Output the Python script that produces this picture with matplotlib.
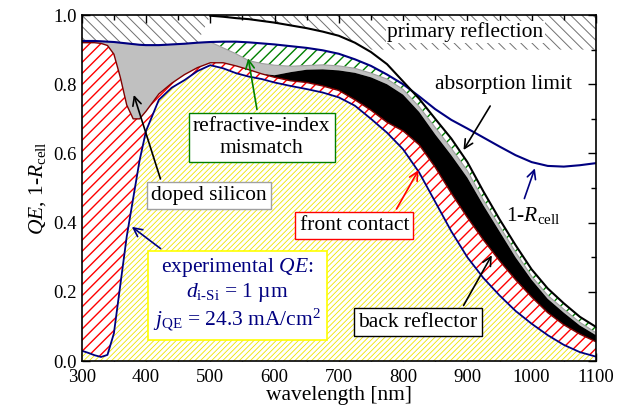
import numpy as np
import matplotlib
matplotlib.use("Agg")
import matplotlib.pyplot as plt

plt.rcParams['font.family'] = ['Liberation Serif', 'DejaVu Serif']
plt.rcParams['mathtext.fontset'] = 'custom'
plt.rcParams['mathtext.rm'] = 'Liberation Serif'
plt.rcParams['mathtext.it'] = 'Liberation Serif:italic'
plt.rcParams['hatch.linewidth'] = 1.0

nan = np.nan

# wavelength grid [nm]
wl = [300, 310, 320, 330, 340, 350, 360, 370, 380, 390, 400, 420, 440, 460, 480,
      500, 520, 540, 560, 580, 600, 625, 650, 675, 700, 725, 750, 775, 800, 825,
      850, 875, 900, 925, 950, 975, 1000, 1025, 1050, 1075, 1100]

# experimental QE
qe = [0.030, 0.024, 0.017, 0.012, 0.018, 0.08, 0.22, 0.36, 0.47, 0.58, 0.665, 0.755, 0.79, 0.812, 0.838,
      0.855, 0.846, 0.832, 0.822, 0.815, 0.805, 0.795, 0.786, 0.776, 0.762, 0.738, 0.70, 0.66, 0.612, 0.545,
      0.46, 0.375, 0.30, 0.24, 0.19, 0.145, 0.108, 0.075, 0.047, 0.026, 0.013]

# top of front contact losses
front = [0.920, 0.920, 0.920, 0.918, 0.912, 0.887, 0.82, 0.74, 0.70, 0.70, 0.722, 0.772, 0.803, 0.828, 0.848,
         0.862, 0.862, 0.853, 0.842, 0.830, 0.82, 0.81, 0.805, 0.795, 0.782, 0.755, 0.725, 0.69, 0.665, 0.625,
         0.56, 0.485, 0.415, 0.35, 0.29, 0.235, 0.185, 0.14, 0.105, 0.078, 0.056]

# top of back reflector losses
back = [0.920, 0.920, 0.920, 0.918, 0.912, 0.887, 0.82, 0.74, 0.70, 0.70, 0.722, 0.772, 0.803, 0.828, 0.848,
        0.862, 0.862, 0.853, 0.842, 0.830, 0.826, 0.835, 0.842, 0.843, 0.840, 0.833, 0.82, 0.80, 0.77, 0.72,
        0.655, 0.595, 0.53, 0.45, 0.375, 0.30, 0.235, 0.18, 0.14, 0.103, 0.075]

# 1 - R_cell
one_minus_r = [0.925, 0.925, 0.925, 0.924, 0.923, 0.922, 0.92, 0.918, 0.916, 0.914, 0.913, 0.913, 0.915, 0.917, 0.92,
               0.922, 0.923, 0.923, 0.921, 0.918, 0.915, 0.91, 0.905, 0.898, 0.888, 0.872, 0.853, 0.828, 0.80, 0.765,
               0.728, 0.697, 0.672, 0.646, 0.62, 0.595, 0.575, 0.564, 0.562, 0.566, 0.572]

# top of doped silicon losses
doped = [0.925, 0.925, 0.925, 0.924, 0.923, 0.922, 0.92, 0.918, 0.916, 0.914, 0.913, 0.913, 0.915, 0.917, 0.92,
         0.922, 0.905, 0.888, 0.868, 0.86, 0.855, 0.852, 0.854, 0.856, 0.853, 0.846, 0.832, 0.815, 0.785, 0.735,
         0.675, 0.615, 0.55, 0.465, 0.39, 0.315, 0.245, 0.19, 0.15, 0.112, 0.082]

# absorption limit
abs_limit = [nan, nan, nan, nan, nan, nan, nan, nan, nan, nan, nan, nan, nan, nan, nan,
             0.998, 0.995, 0.991, 0.988, 0.983, 0.978, 0.97, 0.962, 0.952, 0.94, 0.92, 0.893, 0.858, 0.808, 0.758,
             0.70, 0.643, 0.575, 0.49, 0.41, 0.335, 0.265, 0.21, 0.167, 0.128, 0.099]

# lower edge of primary reflection
primary = [0.925, 0.925, 0.925, 0.924, 0.923, 0.922, 0.92, 0.918, 0.916, 0.914, 0.913, 0.913, 0.915, 0.917, 0.92,
           0.922, 0.923, 0.923, 0.921, 0.918, 0.912, 0.908, 0.905, 0.903, 0.902, 0.90, 0.90, 0.90, 0.90, 0.90,
           0.90, 0.90, 0.90, 0.90, 0.90, 0.90, 0.90, 0.90, 0.90, 0.90, 0.90]

wl = np.array(wl)
qe = np.array(qe)
front = np.array(front)
back = np.array(back)
doped = np.array(doped)
one_minus_r = np.array(one_minus_r)
abs_limit = np.array(abs_limit)
primary = np.array(primary)

mismatch = np.fmin(one_minus_r, abs_limit)
prim_low = np.maximum(primary, np.nan_to_num(abs_limit))

navy = '#000080'

fig = plt.figure(figsize=(6.24, 4.17), dpi=100)
ax = fig.add_axes([0.131, 0.134, 0.824, 0.83])

with plt.rc_context({'hatch.linewidth': 0.7}):
    ax.fill_between(wl, prim_low, 1.0, facecolor='white', edgecolor='#707070', hatch='\\\\\\',
                    linewidth=0, zorder=1)
ax.fill_between(wl, doped, mismatch, facecolor='white', edgecolor='#008000', hatch='///', linewidth=0, zorder=2)
ax.fill_between(wl, back, doped, facecolor='#c0c0c0', linewidth=0, zorder=3)
ax.fill_between(wl, front, back, facecolor='black', linewidth=0, zorder=4)
ax.fill_between(wl, qe, front, facecolor='white', edgecolor='#ff0000', hatch='///', linewidth=0, zorder=5)
with plt.rc_context({'hatch.linewidth': 0.6}):
    ax.fill_between(wl, 0, qe, facecolor='white', edgecolor='#eee400', hatch='//////', linewidth=0, zorder=6)

ax.plot(wl, doped, color='#a0a0a0', lw=0.8, zorder=7)
ax.plot(wl, front, color='#800000', lw=1.0, zorder=7)
ax.plot(wl, qe, color=navy, lw=1.3, zorder=8)
ax.plot(wl, one_minus_r, color=navy, lw=1.5, zorder=8)
ax.plot(wl, abs_limit, color='black', lw=1.5, zorder=8)

fs = 15.5
ax.text(897, 0.951, 'primary reflection', fontsize=fs, ha='center', va='center', zorder=10,
        bbox=dict(facecolor='white', edgecolor='none', pad=1))

ax.annotate('absorption limit', xy=(894, 0.61), xytext=(956, 0.800), fontsize=fs, ha='center', va='center',
            zorder=10, arrowprops=dict(arrowstyle='->', color='black', lw=1.2, shrinkA=8, shrinkB=0))

ax.annotate('refractive-index\nmismatch', xy=(559, 0.875), xytext=(580, 0.647), fontsize=fs, ha='center',
            va='center', multialignment='center', zorder=10,
            bbox=dict(facecolor='white', edgecolor='#008000', lw=1, pad=3),
            arrowprops=dict(arrowstyle='->', color='#008000', lw=1.2, shrinkB=0))

ax.annotate('doped silicon', xy=(381, 0.769), xytext=(498, 0.478), fontsize=fs, ha='center', va='center',
            zorder=10, bbox=dict(facecolor='white', edgecolor='#a0a0a0', lw=1, pad=3),
            arrowprops=dict(arrowstyle='->', color='black', lw=1.2, shrinkB=0, relpos=(0.1, 1.0)))

ax.annotate('front contact', xy=(824, 0.552), xytext=(724, 0.392), fontsize=fs, ha='center', va='center',
            zorder=10, bbox=dict(facecolor='white', edgecolor='#ff0000', lw=1, pad=3),
            arrowprops=dict(arrowstyle='->', color='#ff0000', lw=1.2, shrinkB=0, relpos=(0.85, 1.0)))

ax.annotate('back reflector', xy=(938, 0.306), xytext=(823, 0.113), fontsize=fs, ha='center', va='center',
            zorder=10, bbox=dict(facecolor='white', edgecolor='black', lw=1, pad=3),
            arrowprops=dict(arrowstyle='->', color='black', lw=1.2, shrinkB=0, relpos=(0.85, 1.0)))

ax.annotate(r'1-$R_{\rm cell}$', xy=(1005, 0.557), xytext=(1002, 0.42), fontsize=fs, ha='center', va='center',
            zorder=10, arrowprops=dict(arrowstyle='->', color=navy, lw=1.2, shrinkA=3, shrinkB=0,
                                       relpos=(0.3, 1.0)))

ax.annotate('experimental $QE$:\n$d_{\\text{i-Si}}$ = 1 µm\n$j_{\\rm QE}$ = 24.3 mA/cm$^2$',
            xy=(378, 0.388), xytext=(542, 0.191), fontsize=fs, ha='center', va='center', color=navy,
            multialignment='center', zorder=10, linespacing=1.15,
            bbox=dict(facecolor='white', edgecolor='#ffff00', lw=1.2, pad=4),
            arrowprops=dict(arrowstyle='->', color=navy, lw=1.2, shrinkB=0, relpos=(0.1, 1.0)))

ax.set_xlim(300, 1100)
ax.set_ylim(0, 1.0)
ax.set_xticks(np.arange(300, 1101, 100))
ax.set_xticks(np.arange(300, 1101, 50), minor=True)
ax.set_yticks(np.arange(0, 1.01, 0.2))
ax.set_yticks(np.arange(0, 1.01, 0.1), minor=True)
ax.yaxis.set_major_formatter(matplotlib.ticker.FormatStrFormatter('%.1f'))
ax.tick_params(which='both', direction='in', top=True, right=True, labelsize=13.5, width=1)
ax.tick_params(which='major', length=6)
ax.tick_params(which='minor', length=3.5)
ax.tick_params(axis='x', pad=6)
for s in ax.spines.values():
    s.set_linewidth(1.2)
    s.set_zorder(20)

ax.set_xlabel('wavelength [nm]', fontsize=fs, labelpad=0)
ax.set_ylabel(r'$QE$, 1-$R_{\rm cell}$', fontsize=fs, labelpad=4)

fig.savefig('out.png', dpi=100)
